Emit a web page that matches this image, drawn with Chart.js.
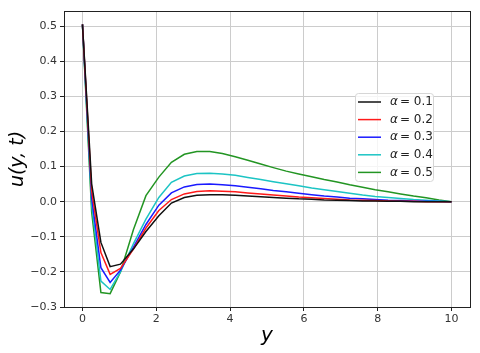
<!DOCTYPE html>
<html>
<head>
<meta charset="utf-8">
<script src="https://cdn.jsdelivr.net/npm/chart.js@4/dist/chart.umd.min.js"></script>
<style>
  body { margin: 0; background: #fff; }
  canvas { display: block; }
</style>
</head>
<body>
<canvas id="chart" width="480" height="353"></canvas>
<script>
// y positions sampled along the plate
const ys = [0, 0.25, 0.5, 0.75, 1.03, 1.38, 1.72, 2.07, 2.41, 2.76, 3.1, 3.45, 3.79, 4.14, 4.48, 4.83, 5.17, 5.52, 5.86, 6.21, 6.55, 6.9, 7.24, 7.59, 7.93, 8.28, 8.62, 8.97, 9.31, 9.66, 10];

const alphaLabels = ["0.1", "0.2", "0.3", "0.4", "0.5"];
const lineColors = ["#111111", "#ff1a1a", "#1a1aff", "#1cc4c4", "#239523"];

const u01 = [0.505, 0.05, -0.116, -0.185, -0.178, -0.135, -0.085, -0.04, -0.004, 0.012, 0.018, 0.02, 0.02, 0.018, 0.016, 0.014, 0.012, 0.01, 0.008, 0.007, 0.005, 0.004, 0.003, 0.002, 0.002, 0.001, 0.001, 0, 0, 0, 0];
const u02 = [0.505, 0.03, -0.145, -0.207, -0.19, -0.135, -0.075, -0.025, 0.006, 0.022, 0.029, 0.031, 0.03, 0.028, 0.025, 0.022, 0.019, 0.016, 0.013, 0.011, 0.009, 0.007, 0.005, 0.004, 0.003, 0.002, 0.001, 0.001, 0, 0, 0];
const u03 = [0.505, 0.01, -0.188, -0.23, -0.195, -0.13, -0.065, -0.01, 0.025, 0.042, 0.049, 0.05, 0.048, 0.045, 0.041, 0.037, 0.032, 0.028, 0.024, 0.02, 0.016, 0.013, 0.01, 0.008, 0.006, 0.004, 0.003, 0.002, 0.001, 0.0005, 0];
const u04 = [0.505, -0.01, -0.226, -0.25, -0.2, -0.12, -0.05, 0.012, 0.055, 0.073, 0.08, 0.081, 0.079, 0.075, 0.069, 0.063, 0.057, 0.051, 0.045, 0.039, 0.034, 0.029, 0.024, 0.019, 0.015, 0.012, 0.009, 0.006, 0.004, 0.002, 0];
const u05 = [0.505, -0.03, -0.259, -0.262, -0.2, -0.08, 0.017, 0.07, 0.112, 0.135, 0.143, 0.143, 0.137, 0.128, 0.118, 0.107, 0.097, 0.087, 0.079, 0.071, 0.063, 0.056, 0.048, 0.041, 0.034, 0.028, 0.022, 0.016, 0.011, 0.005, 0];

const xTicks = [0, 2, 4, 6, 8, 10];
const yTicks = [-0.3, -0.2, -0.1, 0.0, 0.1, 0.2, 0.3, 0.4, 0.5];

const series = [u01, u02, u03, u04, u05];

const datasets = series.map((vals, i) => ({
  label: "α = " + alphaLabels[i],
  data: vals.map((v, j) => ({ x: ys[j], y: v })),
  borderColor: lineColors[i],
  backgroundColor: lineColors[i],
  borderWidth: 1.5,
  pointRadius: 0,
  tension: 0,
  fill: false
}));

// full box round the plot + legend drawn by hand (matplotlib style)
const framePlugin = {
  id: 'frame',
  afterDraw(chart) {
    const ctx = chart.ctx;
    const a = chart.chartArea;
    ctx.save();
    ctx.strokeStyle = '#222';
    ctx.lineWidth = 1;
    ctx.strokeRect(Math.round(a.left) + 0.5, Math.round(a.top) + 0.5, Math.round(a.right - a.left), Math.round(a.bottom - a.top));

    // legend
    const bx = 355, by = 93, bw = 78, bh = 88;
    ctx.fillStyle = 'rgba(255,255,255,0.8)';
    ctx.strokeStyle = '#d6d6d6';
    ctx.beginPath();
    ctx.roundRect(bx + 0.5, by + 0.5, bw, bh, 3);
    ctx.fill();
    ctx.stroke();
    chart.data.datasets.forEach((ds, i) => {
      const yy = 102 + i * 17.6;
      ctx.strokeStyle = ds.borderColor;
      ctx.lineWidth = 1.5;
      ctx.beginPath();
      ctx.moveTo(358, yy);
      ctx.lineTo(381, yy);
      ctx.stroke();
      ctx.fillStyle = '#222';
      ctx.textBaseline = 'middle';
      ctx.font = 'italic 12px "DejaVu Sans"';
      ctx.fillText('α', 390, yy);
      ctx.font = '12px "DejaVu Sans"';
      ctx.fillText('= ' + alphaLabels[i], 400, yy);
    });
    ctx.restore();
  }
};

const fmt = v => {
  const s = (Math.round(v * 10) / 10).toFixed(1);
  return s.replace('-', '−');
};

new Chart(document.getElementById('chart'), {
  type: 'line',
  data: { datasets: datasets },
  options: {
    responsive: false,
    animation: false,
    devicePixelRatio: 1,
    layout: { padding: { top: 11, right: 10, left: 0, bottom: 0 } },
    plugins: {
      legend: { display: false },
      tooltip: { enabled: false }
    },
    scales: {
      x: {
        type: 'linear',
        min: -0.5,
        max: 10.5,
        afterBuildTicks: scale => { scale.ticks = xTicks.map(v => ({ value: v })); },
        afterFit: scale => { scale.height = 46; },
        ticks: {
          color: '#333',
          font: { family: 'DejaVu Sans', size: 11 },
          padding: 2,
          maxRotation: 0,
          callback: v => String(v)
        },
        grid: { color: '#cccccc', tickColor: '#222', tickLength: 4 },
        border: { display: false },
        title: {
          display: true,
          text: 'y',
          color: '#000',
          font: { family: 'DejaVu Sans', size: 20, style: 'italic' },
          padding: { top: 0, bottom: 5 }
        }
      },
      y: {
        type: 'linear',
        min: -0.3,
        max: 0.543,
        afterBuildTicks: scale => { scale.ticks = yTicks.map(v => ({ value: v })); },
        afterFit: scale => { scale.width = 64; },
        ticks: {
          color: '#333',
          font: { family: 'DejaVu Sans', size: 11 },
          padding: 3,
          callback: v => fmt(v)
        },
        grid: { color: '#cccccc', tickColor: '#222', tickLength: 4 },
        border: { display: false },
        title: {
          display: true,
          text: 'u(y, t)',
          color: '#000',
          font: { family: 'DejaVu Sans', size: 19, style: 'italic' },
          padding: { top: 7, bottom: 0 }
        }
      }
    }
  },
  plugins: [framePlugin]
});
</script>
</body>
</html>
